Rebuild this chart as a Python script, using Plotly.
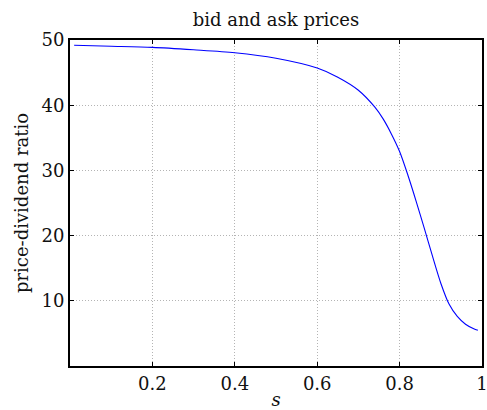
import plotly.graph_objects as go

# state variable s and the corresponding price-dividend ratio
s = [0.01, 0.10, 0.20, 0.30, 0.40, 0.50, 0.60, 0.65, 0.70, 0.74,
     0.76, 0.78, 0.80, 0.82, 0.84, 0.86, 0.88, 0.90, 0.92, 0.94,
     0.96, 0.98, 0.99]
pd_ratio = [49.2, 49.05, 48.87, 48.5, 48.05, 47.2, 45.7, 44.3, 42.3, 39.7,
            37.9, 35.6, 32.9, 29.3, 25.3, 21.1, 16.8, 12.7, 9.5, 7.6,
            6.4, 5.7, 5.47]

x_ticks = [0.2, 0.4, 0.6, 0.8, 1.0]
x_tick_text = ["0.2", "0.4", "0.6", "0.8", "1"]
y_ticks = [10, 20, 30, 40, 50]

FONT = "DejaVu Serif"
TXT = "#111111"

fig = go.Figure(
    go.Scatter(
        x=s, y=pd_ratio, mode="lines",
        line=dict(color="#0000ff", width=1.1, shape="spline", smoothing=0.8),
        showlegend=False,
    )
)

axis_common = dict(
    showline=True, linecolor="black", linewidth=2, mirror="ticks",
    ticks="inside", ticklen=4, tickwidth=1, tickcolor="black",
    showgrid=True, gridcolor="#b4b4b4", gridwidth=1, griddash="1px,2px",
    zeroline=False, automargin=False, ticklabeloverflow="allow",
    tickfont=dict(family=FONT, size=18, color=TXT),
)

fig.update_xaxes(range=[0, 1], tickvals=x_ticks, ticktext=x_tick_text,
                 title=dict(text="<i>s</i>", font=dict(family=FONT, size=18, color=TXT),
                            standoff=2),
                 **axis_common)
fig.update_yaxes(range=[0, 50], tickvals=y_ticks,
                 title=dict(text="price-dividend ratio",
                            font=dict(family=FONT, size=18, color=TXT), standoff=8),
                 **axis_common)

fig.update_layout(
    width=487, height=410,
    margin=dict(l=70, r=5, t=40, b=44),
    plot_bgcolor="white", paper_bgcolor="white",
    title=dict(text="bid and ask prices", xref="paper", x=0.5, xanchor="center",
               y=1 - 20 / 410, yanchor="middle",
               font=dict(family=FONT, size=18, color=TXT)),
)

fig.write_html("out.html")
